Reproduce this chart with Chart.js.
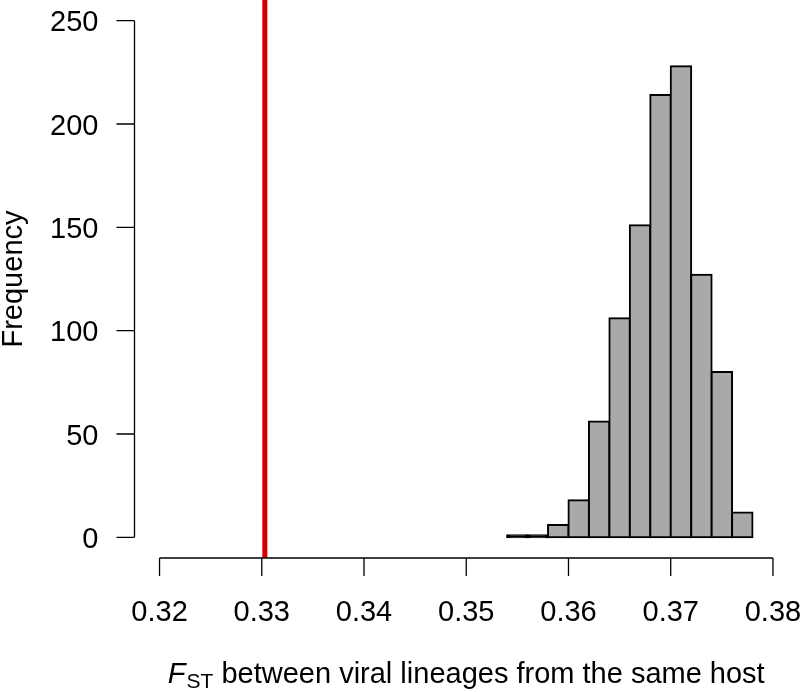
<!DOCTYPE html>
<html>
<head>
<meta charset="utf-8">
<script src="https://cdn.jsdelivr.net/npm/chart.js@4/dist/chart.umd.min.js"></script>
<style>
  body { margin: 0; background: #fff; }
  canvas { display: block; }
</style>
</head>
<body>
<canvas id="histChart" width="800" height="692"></canvas>
<script>
// Histogram of permuted FST values (bin left edges + counts)
const binLefts = [0.354, 0.356, 0.358, 0.360, 0.362, 0.364, 0.366, 0.368, 0.370, 0.372, 0.374, 0.376];
const binWidth = 0.002;
const counts = [1, 1, 6, 18, 56, 106, 151, 214, 228, 127, 80, 12];

// Observed value (red line)
const observedFst = 0.3303;

// Axis ticks
const xTicks = [0.32, 0.33, 0.34, 0.35, 0.36, 0.37, 0.38];
const yTicks = [0, 50, 100, 150, 200, 250];

const FONT = '29px "Liberation Sans", Arial, Helvetica, sans-serif';

// Draws R-style detached axes, tick labels and titles
const rAxes = {
    id: 'rAxes',
    afterDraw(chart) {
        const ctx = chart.ctx;
        const area = chart.chartArea;
        const xs = chart.scales.x;
        const ys = chart.scales.y;
        ctx.save();
        ctx.strokeStyle = '#000';
        ctx.fillStyle = '#000';
        ctx.lineWidth = 1.3;
        ctx.font = FONT;

        // y axis
        const yl = area.left - 0.5;
        ctx.beginPath();
        ctx.moveTo(yl, ys.getPixelForValue(yTicks[0]));
        ctx.lineTo(yl, ys.getPixelForValue(yTicks[yTicks.length - 1]));
        yTicks.forEach(t => {
            const py = ys.getPixelForValue(t);
            ctx.moveTo(yl, py);
            ctx.lineTo(yl - 18, py);
        });
        ctx.stroke();
        ctx.textAlign = 'right';
        ctx.textBaseline = 'alphabetic';
        yTicks.forEach(t => {
            ctx.fillText(String(t), yl - 36, ys.getPixelForValue(t) + 10.5);
        });

        // x axis
        const xb = area.bottom;
        ctx.beginPath();
        ctx.moveTo(xs.getPixelForValue(xTicks[0]), xb);
        ctx.lineTo(xs.getPixelForValue(xTicks[xTicks.length - 1]), xb);
        xTicks.forEach(t => {
            const px = xs.getPixelForValue(t);
            ctx.moveTo(px, xb);
            ctx.lineTo(px, xb + 18);
        });
        ctx.stroke();
        ctx.textAlign = 'center';
        xTicks.forEach(t => {
            ctx.fillText(t.toFixed(2), xs.getPixelForValue(t), xb + 63);
        });

        // y title
        const yMid = (ys.getPixelForValue(0) + ys.getPixelForValue(250)) / 2;
        ctx.save();
        ctx.translate(22, yMid);
        ctx.rotate(-Math.PI / 2);
        ctx.textAlign = 'center';
        ctx.fillText('Frequency', 0, 0);
        ctx.restore();

        // x title: italic F, subscript ST, rest plain
        const fPart = 'F';
        const subPart = 'ST';
        const rest = ' between viral lineages from the same host';
        const italicFont = 'italic ' + FONT;
        const subFont = '21px "Liberation Sans", Arial, Helvetica, sans-serif';
        ctx.font = italicFont;
        const wF = ctx.measureText(fPart).width;
        ctx.font = subFont;
        const wS = ctx.measureText(subPart).width;
        ctx.font = FONT;
        const wR = ctx.measureText(rest).width;
        const total = wF + 1 + wS + wR;
        const cx = (area.left + area.right) / 2;
        let x0 = cx - total / 2;
        const base = 683;
        ctx.textAlign = 'left';
        ctx.font = italicFont;
        ctx.fillText(fPart, x0, base);
        x0 += wF + 1;
        ctx.font = subFont;
        ctx.fillText(subPart, x0, base + 5);
        x0 += wS;
        ctx.font = FONT;
        ctx.fillText(rest, x0, base);

        ctx.restore();
    }
};

const ctx = document.getElementById('histChart').getContext('2d');
const histChart = new Chart(ctx, {
    type: 'bar',
    data: {
        datasets: [
            {
                label: 'Permuted FST',
                data: binLefts.map((b, i) => ({ x: b + binWidth / 2, y: counts[i] })),
                // very short bars render as a solid edge in the original
                backgroundColor: c => (c.raw && c.raw.y <= 1 ? '#000' : '#a9a9a9'),
                borderColor: '#000',
                borderWidth: 2,
                borderSkipped: false,
                inflateAmount: 1,
                barPercentage: 1,
                categoryPercentage: 1
            },
            {
                type: 'line',
                label: 'Observed FST',
                data: [{ x: observedFst, y: -10 }, { x: observedFst, y: 260 }],
                borderColor: '#d40000',
                borderWidth: 5,
                pointRadius: 0,
                fill: false
            }
        ]
    },
    options: {
        responsive: false,
        animation: false,
        layout: {
            padding: { left: 135, right: 2.5, top: 0, bottom: 134 }
        },
        plugins: {
            legend: { display: false },
            tooltip: { enabled: false }
        },
        scales: {
            x: {
                type: 'linear',
                min: 0.3176,
                max: 0.3824,
                offset: false,
                display: false
            },
            y: {
                min: -10,
                max: 260,
                display: false
            }
        }
    },
    plugins: [rAxes]
});
</script>
</body>
</html>
